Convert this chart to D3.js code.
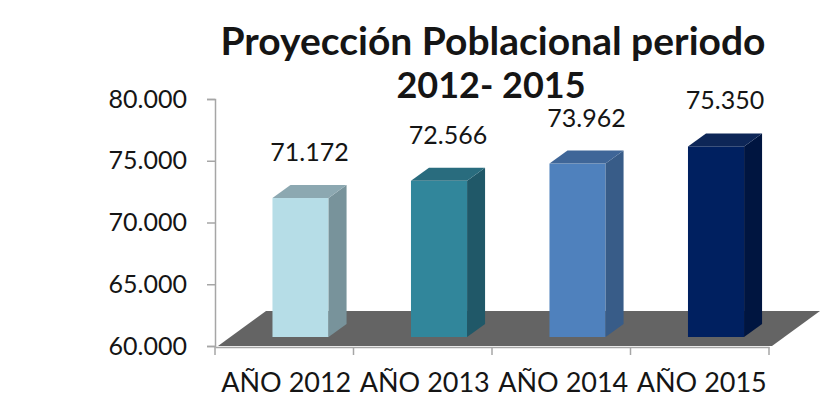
<!DOCTYPE html>
<html><head><meta charset="utf-8">
<script src="https://cdn.jsdelivr.net/npm/d3@7"></script>
<style>
html,body{margin:0;padding:0;background:#fff;}
svg{display:block;}
text{font-family:Lato,"Open Sans",sans-serif;fill:#151515;}
</style></head>
<body>
<svg id="chart" width="820" height="416"></svg>
<script>
const titleLines = ["Proyección Poblacional periodo", "2012- 2015"];
const categories = ["AÑO 2012", "AÑO 2013", "AÑO 2014", "AÑO 2015"];
const values = [71172, 72566, 73962, 75350];
const yTicks = [60000, 65000, 70000, 75000, 80000];
const frontColors = ["#B6DDE7", "#31869B", "#4F81BD", "#002060"];
const sideColors  = ["#78939B", "#205868", "#385C88", "#001540"];
const topColors   = ["#8CA8B1", "#296C7E", "#3F6698", "#0D2657"];

const fmt = d3.formatLocale({decimal: ",", thousands: ".", grouping: [3], currency: ["", ""]}).format(",");

const svg = d3.select("#chart");
const y = d3.scaleLinear().domain([60000, 80000]).range([346, 99]);
const x = d3.scaleBand().domain(categories).range([215, 769]).padding(0);
const bw = x.bandwidth();

// floor
const fy = y(60000);
const fx0 = x.range()[0] + 3, fx1 = x.range()[1] + 3;
const fdx = 48, fdy = -35;
svg.append("polygon")
  .attr("points", [[fx0, fy], [fx1, fy], [fx1 + fdx, fy + fdy], [fx0 + fdx, fy + fdy]].map(p => p.join(",")).join(" "))
  .attr("fill", "#646464");

// axes
const yAxis = svg.append("g").attr("transform", "translate(215,0)")
  .call(d3.axisLeft(y).tickValues(yTicks).tickFormat(fmt).tickSize(8).tickPadding(20));
yAxis.select(".domain").attr("stroke", "#A6A6A6").attr("stroke-width", 1.5);
yAxis.selectAll(".tick line").attr("stroke", "#A6A6A6").attr("stroke-width", 1.5);
yAxis.selectAll("text").attr("font-size", 25).attr("fill", "#151515").attr("font-family", "Lato");

const xAxis = svg.append("g").attr("transform", `translate(0,${fy + 1})`)
  .call(d3.axisBottom(x).tickSizeOuter(0).tickSize(0).tickFormat(""));
xAxis.select(".domain").attr("stroke", "#A6A6A6").attr("stroke-width", 1.5);
const edges = x.domain().map(c => x(c)).concat([x.range()[1]]);
svg.append("g").selectAll("line").data(edges).join("line")
  .attr("x1", d => d).attr("x2", d => d)
  .attr("y1", fy + 1).attr("y2", fy + 9)
  .attr("stroke", "#A6A6A6").attr("stroke-width", 1.5);

svg.append("g").selectAll("text").data(categories).join("text")
  .attr("x", d => x(d) + bw / 2 + 2)
  .attr("y", 392)
  .attr("text-anchor", "middle")
  .attr("font-size", 27)
  .text(d => d);

// bars
const dx = 18, dy = -13;
const bars = categories.map((c, i) => {
  const left = x(c) + bw * 0.415;
  const w = bw * 0.405;
  const top = y(values[i]) - 10;
  const bottom = y(60000) - 9;
  return {c, i, left, w, top, bottom, v: values[i]};
});
const g = svg.append("g");
bars.forEach(b => {
  g.append("rect").attr("x", b.left).attr("y", b.top).attr("width", b.w).attr("height", b.bottom - b.top)
    .attr("fill", frontColors[b.i]);
  g.append("polygon")
    .attr("points", [[b.left + b.w, b.top], [b.left + b.w + dx, b.top + dy], [b.left + b.w + dx, b.bottom + dy], [b.left + b.w, b.bottom]].map(p => p.join(",")).join(" "))
    .attr("fill", sideColors[b.i]);
  g.append("polygon")
    .attr("points", [[b.left, b.top], [b.left + dx, b.top + dy], [b.left + b.w + dx, b.top + dy], [b.left + b.w, b.top]].map(p => p.join(",")).join(" "))
    .attr("fill", topColors[b.i]);
  g.append("text")
    .attr("x", b.left + b.w / 2 + dx / 2)
    .attr("y", b.top - 37)
    .attr("text-anchor", "middle")
    .attr("font-size", 25)
    .text(fmt(b.v));
});

// title
svg.append("text").attr("x", 493).attr("y", 55).attr("text-anchor", "middle")
  .attr("font-size", 39).attr("font-weight", "bold").text(titleLines[0]);
svg.append("text").attr("x", 491).attr("y", 98).attr("text-anchor", "middle")
  .attr("font-size", 36).attr("font-weight", "bold").text(titleLines[1]);
</script>
</body></html>
